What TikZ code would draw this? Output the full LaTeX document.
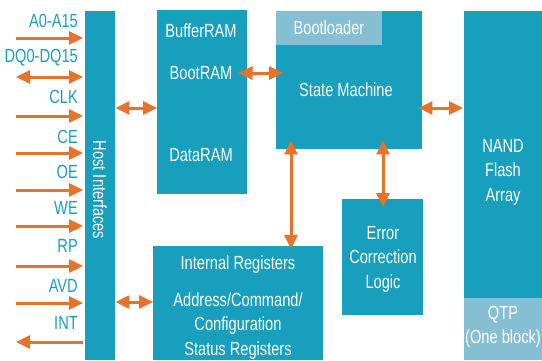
\documentclass[tikz,border=0pt]{standalone}
\usepackage{fontspec}
\setmainfont[FakeStretch=0.77]{Liberation Sans}
\usetikzlibrary{arrows.meta,positioning}

\definecolor{chipblue}{HTML}{189FBE}
\definecolor{chiplight}{HTML}{86BFD4}
\definecolor{sigorange}{HTML}{E8722A}

\tikzset{
    block/.style={fill=chipblue, draw=none, inner sep=0pt, anchor=north west},
    band/.style={fill=chiplight, draw=none, inner sep=0pt, anchor=north west},
    lbl/.style={text=white, font=\fontsize{19}{24.5}\selectfont, align=center, inner sep=0pt},
    sig/.style={text=chipblue, font=\fontsize{19}{20}\selectfont, anchor=east, inner sep=0pt},
    sigin/.style={draw=sigorange, line width=3pt, -{Triangle[length=14pt,width=13pt]}},
    sigout/.style={draw=sigorange, line width=3pt, {Triangle[length=14pt,width=13pt]}-},
    sigboth/.style={draw=sigorange, line width=3pt, {Triangle[length=14pt,width=13pt]}-{Triangle[length=14pt,width=13pt]}}
}

\begin{document}
\begin{tikzpicture}[x=1pt, y=-1pt]
    \useasboundingbox (0,0) rectangle (542,360);

    % blocks
    \node[block, minimum width=30, minimum height=349] (host) at (85,11) {};
    \node[block, minimum width=90, minimum height=184] (buf) at (157,10) {};
    \node[block, minimum width=146, minimum height=138] (sm) at (276,11) {};
    \node[band, minimum width=106, minimum height=34] (boot) at (276,11) {};
    \node[block, minimum width=81, minimum height=116] (ecc) at (342,199) {};
    \node[block, minimum width=170, minimum height=114] (reg) at (153,246) {};
    \node[block, minimum width=78, minimum height=287] (nand) at (464,11) {};
    \node[band, minimum width=78, minimum height=62] (qtp) at (464,298) {};

    % block texts
    \node[lbl, rotate=-90] (hostlbl) at (100,190) {Host Interfaces};
    \node[lbl] (bufram) at (201,31) {BufferRAM};
    \node[lbl] (bootram) at (201,73) {BootRAM};
    \node[lbl] (dataram) at (201,155) {DataRAM};
    \node[lbl] (bootlbl) at (329,28) {Bootloader};
    \node[lbl] (smlbl) at (346,90) {State Machine};
    \node[lbl] (ecclbl) at (383,259) {Error\\Correction\\Logic};
    \node[lbl] (reglbl) at (238,265) {Internal Registers};
    \node[lbl] (regsub) at (238,326) {Address/Command/\\Configuration\\Status Registers};
    \node[lbl] (nandlbl) at (503,172) {NAND\\Flash\\Array};
    \node[lbl] (qtplbl) at (503,327) {QTP\\(One block)};

    % host signals
    \foreach \ly/\ay/\txt/\dir/\nm in {21/38/A0-A15/sigin/a, 58/77/DQ0-DQ15/sigboth/dq,
        97/116/CLK/sigin/clk, 137/153/CE/sigin/ce, 172/190/OE/sigin/oe,
        208/226/WE/sigin/we, 246/266/RP/sigin/rp, 286/303/AVD/sigin/avd,
        323/342/INT/sigout/int} {
        \node[sig] (lbl-\nm) at (78,\ly) {\txt};
        \coordinate (src-\nm) at (16,\ay);
        \draw[\dir] (src-\nm) -- ([xshift=-2pt]host.west |- src-\nm);
    }

    % internal links
    \coordinate (hb) at (0,108);
    \coordinate (hr) at (0,302);
    \coordinate (v1) at (291,0);
    \coordinate (v2) at (383,0);
    \draw[sigboth] (host.east |- hb) -- (buf.west |- hb);
    \draw[sigboth] (host.east |- hr) -- (reg.west |- hr);
    \draw[sigboth] ([xshift=6pt]bootram.east) -- ([xshift=7pt]sm.west |- bootram);
    \draw[sigboth] ([xshift=-4pt]sm.east |- hb) -- ([xshift=-1pt]nand.west |- hb);
    \draw[sigboth] ([yshift=9pt]sm.south -| v1) -- ([yshift=-3pt]reg.north -| v1);
    \draw[sigboth] ([yshift=9pt]sm.south -| v2) -- ([yshift=-8pt]ecc.north -| v2);
\end{tikzpicture}
\end{document}
